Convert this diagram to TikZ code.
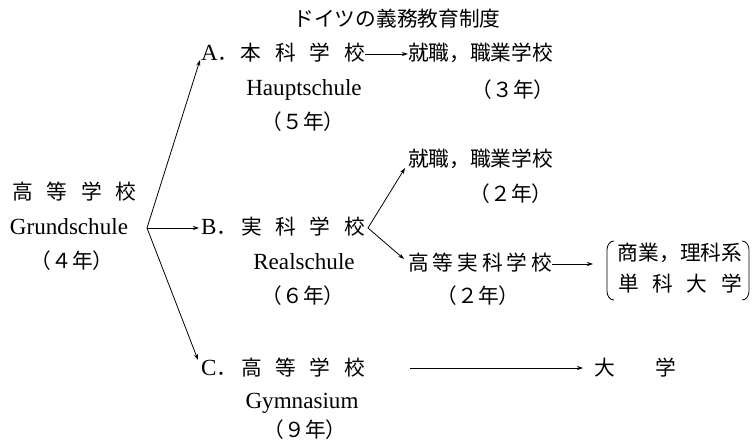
\documentclass[tikz,border=0pt]{standalone}
\usepackage{fontspec}
\setmainfont{Liberation Serif}
\newfontfamily\jpfont{Noto Sans CJK JP}
\usetikzlibrary{arrows.meta,calc}
\newcommand\J[1]{{\jpfont\fontsize{20.7bp}{24bp}\selectfont #1}}
\newcommand\gp{\hspace{13.7bp}}
\newcommand\rowlabel[5]{\makebox[40bp][l]{#1\J{．}}\J{#2\gp#3\gp#4\gp#5}}
\begin{document}
\begin{tikzpicture}[x=1bp,y=-1bp,
  every node/.style={inner sep=0pt, outer sep=0pt, text height=14bp, text depth=0bp,
    font=\fontsize{23.1bp}{28bp}\selectfont},
  arr/.style={draw, line width=0.8bp, -{Stealth[length=6bp,width=4bp]}},
  paren/.style={draw, line width=0.8bp}
  ]
\useasboundingbox (0,0) rectangle (753,443);
\node (title) at (397,20) {\J{ドイツの義務教育制度}};
% Grundschule
\node (g1) at (74.5,193) {\J{高\gp 等\gp 学\gp 校}};
\node (g2) at (69,228) {Grundschule};
\node (g3) at (72,262) {\J{（４年）}};
\coordinate (o) at (147,228);
% A
\node[anchor=west] (a1) at (201,54) {\rowlabel{A}{本}{科}{学}{校}};
\node (a2) at (304,89) {Hauptschule};
\node (a3) at (303,123) {\J{（５年）}};
\node[anchor=west] (a4) at (408,54) {\J{就職，職業学校}};
\node (a5) at (513,91) {\J{（３年）}};
% B
\node[anchor=west] (b1) at (201,228) {\rowlabel{B}{実}{科}{学}{校}};
\node (b2) at (304,263) {Realschule};
\node (b3) at (303,297) {\J{（６年）}};
\coordinate (bv) at (368,228);
\node[anchor=west] (b4) at (408,160) {\J{就職，職業学校}};
\node (b5) at (511,195) {\J{（２年）}};
\node[anchor=west] (b6) at (408,264) {\J{高\hspace{4bp}等\hspace{4bp}実\hspace{4bp}科\hspace{4bp}学\hspace{4bp}校}};
\node (b7) at (478,297) {\J{（２年）}};
\node (u1) at (680,254) {\J{商業，理科系}};
\node (u2) at (680,285) {\J{単\gp 科\gp 大\gp 学}};
\node[text height=0bp, text depth=0bp, minimum width=142bp, minimum height=59bp] (bk) at (678,270.5) {};
\coordinate (bt) at (593,264);
% C
\node[anchor=west] (c1) at (201,368) {\rowlabel{C}{高}{等}{学}{校}};
\node (c2) at (302,401) {Gymnasium};
\node (c3) at (305,430) {\J{（９年）}};
\coordinate (c0) at (410,368);
\node[anchor=west] (c4) at (594,368) {\J{大\hspace{41bp}学}};
% connectors
\draw[arr] (o) -- ([xshift=-1bp,yshift=-6bp]a1.west);
\draw[arr] (o) -- ([xshift=-2bp]b1.west);
\draw[arr] (o) -- ([xshift=-3bp,yshift=8bp]c1.west);
\draw[arr] (a1.east) -- (a4.west);
\draw[arr] (bv) -- ([xshift=-3bp,yshift=-8bp]b4.west);
\draw[arr] (bv) -- ([xshift=-4bp,yshift=5bp]b6.west);
\draw[arr] (b6.east) -- (bt);
\draw[arr] (c0) -- ([xshift=-11bp]c4.west);
% parentheses
\draw[paren] ($(bk.north west)+(7,0)$) to[out=180,in=90] ($(bk.north west)+(0,9)$)
  -- ($(bk.south west)+(0,-9)$) to[out=-90,in=180] ($(bk.south west)+(7,0)$);
\draw[paren] ($(bk.north east)+(-7,0)$) to[out=0,in=90] ($(bk.north east)+(0,9)$)
  -- ($(bk.south east)+(0,-9)$) to[out=-90,in=0] ($(bk.south east)+(-7,0)$);
\end{tikzpicture}
\end{document}
